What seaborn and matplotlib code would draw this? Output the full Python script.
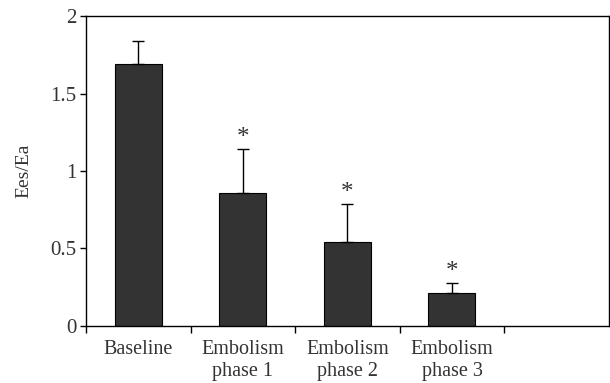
import pandas as pd
import matplotlib
matplotlib.use("Agg")
import matplotlib.pyplot as plt
import seaborn as sns
import numpy as np

# Données
conditions = ["Baseline", "Embolism\nphase 1", "Embolism\nphase 2", "Embolism\nphase 3"]
ees_ea = [1.69, 0.86, 0.54, 0.21]
sd_up = [0.15, 0.28, 0.25, 0.07]
significant = [False, True, True, True]

sns.set_theme(style="white")
plt.rcParams['font.family'] = ['Liberation Serif', 'DejaVu Serif']
text_color = "#333333"

df = pd.DataFrame({"condition": conditions, "value": ees_ea})

fig = plt.figure(figsize=(6.1, 3.83), dpi=100)
ax = fig.add_axes([0.141, 0.149, 0.857, 0.809])

sns.barplot(data=df, x="condition", y="value", order=conditions,
            color="#333333", edgecolor="black", linewidth=0.8,
            width=0.45, errorbar=None, saturation=1, ax=ax)

# Barres d'erreur (uniquement vers le haut)
x_pos = np.arange(len(conditions))
ax.errorbar(x_pos, ees_ea, yerr=[np.zeros(len(sd_up)), sd_up], fmt="none",
            ecolor="black", elinewidth=1, capsize=4, capthick=1)

# Astérisques
for x, v, e, s in zip(x_pos, ees_ea, sd_up, significant):
    if s:
        ax.annotate("*", (x, v + e), xytext=(0, 0), textcoords="offset points",
                    ha="center", va="bottom", fontsize=18, color=text_color)

ax.set_xlim(-0.5, 4.5)
ax.set_ylim(0, 2)
ax.set_yticks([0, 0.5, 1, 1.5, 2])
ax.set_yticklabels(["0", "0.5", "1", "1.5", "2"])
ax.set_xlabel("")
ax.set_ylabel("Ees/Ea", fontsize=14, color=text_color, labelpad=13)

ax.set_xticks(x_pos)
ax.set_xticklabels(conditions, linespacing=1.2)
ax.set_xticks(np.arange(-0.5, 4.0, 1.0), minor=True)
ax.tick_params(axis="x", which="major", length=0, pad=10, labelsize=14.5, labelcolor=text_color)
ax.tick_params(axis="x", which="minor", length=5, width=1, direction="out", color="black", bottom=True)
ax.tick_params(axis="y", length=4, width=1, direction="out", color="black", left=True,
               labelsize=15, labelcolor=text_color, pad=3)

for sp in ax.spines.values():
    sp.set_color("black")
    sp.set_linewidth(1)
    sp.set_visible(True)

fig.savefig("out.png", dpi=100)
plt.close(fig)
